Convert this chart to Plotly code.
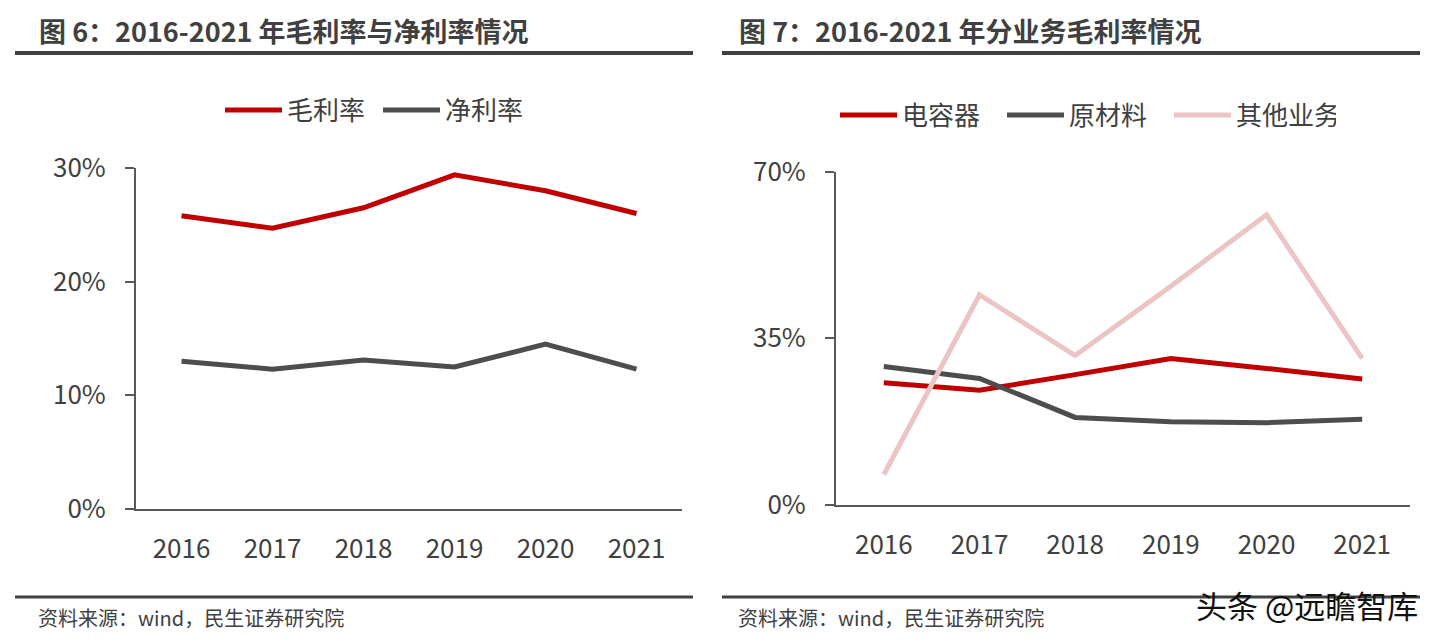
import plotly.graph_objects as go

W, H = 1433, 643

years = ["2016", "2017", "2018", "2019", "2020", "2021"]
gross_margin = [25.8, 24.7, 26.5, 29.4, 28.0, 26.0]
net_margin = [13.0, 12.3, 13.1, 12.5, 14.5, 12.3]
capacitor = [25.6, 24.0, 27.3, 30.7, 28.6, 26.4]
raw_material = [29.0, 26.5, 18.3, 17.4, 17.2, 17.9]
other_business = [6.3, 44.1, 31.3, 45.9, 60.9, 30.7]

left_ticks = [0, 10, 20, 30]
left_labels = ["0%", "10%", "20%", "30%"]
right_ticks = [0, 35, 70]
right_labels = ["0%", "35%", "70%"]

RED = "#C00000"
GRAY = "#4D4D4D"
PINK = "#EBC4C4"
TXT = "#404040"
AX = "#595959"
FONT = "Noto Sans CJK SC"

def px(x):
    return x / W

def py(y):
    return 1 - y / H

fig = go.Figure()

fig.add_trace(go.Scatter(x=years, y=gross_margin, name="毛利率", mode="lines",
                         line=dict(color=RED, width=5), xaxis="x", yaxis="y", legend="legend"))
fig.add_trace(go.Scatter(x=years, y=net_margin, name="净利率", mode="lines",
                         line=dict(color=GRAY, width=5), xaxis="x", yaxis="y", legend="legend"))
fig.add_trace(go.Scatter(x=years, y=capacitor, name="电容器", mode="lines",
                         line=dict(color=RED, width=5), xaxis="x2", yaxis="y2", legend="legend2"))
fig.add_trace(go.Scatter(x=years, y=raw_material, name="原材料", mode="lines",
                         line=dict(color=GRAY, width=5), xaxis="x2", yaxis="y2", legend="legend2"))
fig.add_trace(go.Scatter(x=years, y=other_business, name="其他业务", mode="lines",
                         line=dict(color=PINK, width=5), xaxis="x2", yaxis="y2", legend="legend2"))

xcommon = dict(type="category", categoryorder="array", categoryarray=years,
               range=[-0.5, 5.5], showline=True, linecolor=AX, linewidth=2,
               ticks="", showgrid=False, zeroline=False, automargin=False,
               tickfont=dict(family=FONT, size=26, color=TXT), ticklabelstandoff=16,
               fixedrange=True)
ycommon = dict(showline=True, linecolor=AX, linewidth=2, ticks="outside",
               ticklen=9, tickcolor=AX, tickwidth=2, showgrid=False, zeroline=False,
               tickfont=dict(family=FONT, size=26, color=TXT), automargin=False,
               ticklabelstandoff=14, fixedrange=True)

fig.update_layout(
    width=W, height=H,
    margin=dict(l=0, r=0, t=0, b=0, autoexpand=False),
    paper_bgcolor="white", plot_bgcolor="white",
    font=dict(family=FONT, color=TXT),
    xaxis=dict(domain=[px(136), px(682)], anchor="y", **xcommon),
    yaxis=dict(domain=[py(509), py(168)], anchor="x", range=[0, 30],
               tickvals=left_ticks, ticktext=left_labels, **ycommon),
    xaxis2=dict(domain=[px(836), px(1410)], anchor="y2", **xcommon),
    yaxis2=dict(domain=[py(504.5), py(171.5)], anchor="x2", range=[0, 70],
                tickvals=right_ticks, ticktext=right_labels, **ycommon),
    legend=dict(orientation="h", x=px(220), y=py(110), xanchor="left", yanchor="middle",
                font=dict(family=FONT, size=26, color=TXT), bgcolor="rgba(0,0,0,0)",
                itemwidth=57, entrywidth=86, entrywidthmode="pixels", tracegroupgap=0),
    legend2=dict(orientation="h", x=px(835), y=py(115), xanchor="left", yanchor="middle",
                 font=dict(family=FONT, size=26, color=TXT), bgcolor="rgba(0,0,0,0)",
                 itemwidth=57, entrywidth=95, entrywidthmode="pixels", tracegroupgap=0),
    showlegend=True,
)

# Titles
fig.add_annotation(x=px(37), y=py(30), xref="paper", yref="paper", xanchor="left", yanchor="middle",
                   text="<b>图 6：2016-2021 年毛利率与净利率情况</b>", showarrow=False,
                   font=dict(family=FONT, size=27, color=TXT))
fig.add_annotation(x=px(737), y=py(30), xref="paper", yref="paper", xanchor="left", yanchor="middle",
                   text="<b>图 7：2016-2021 年分业务毛利率情况</b>", showarrow=False,
                   font=dict(family=FONT, size=27, color=TXT))

# Source notes
fig.add_annotation(x=px(36), y=py(617), xref="paper", yref="paper", xanchor="left", yanchor="middle",
                   text="资料来源：wind，民生证券研究院", showarrow=False,
                   font=dict(family=FONT, size=20, color=TXT))
fig.add_annotation(x=px(736), y=py(617), xref="paper", yref="paper", xanchor="left", yanchor="middle",
                   text="资料来源：wind，民生证券研究院", showarrow=False,
                   font=dict(family=FONT, size=20, color=TXT))

# Watermark
fig.add_annotation(x=px(1420), y=py(604), xref="paper", yref="paper", xanchor="right", yanchor="middle",
                   text="头条 @远瞻智库", showarrow=False,
                   font=dict(family=FONT, size=31, color="#111111"), bgcolor="rgba(0,0,0,0)")

# Rules
for x0, x1 in [(15, 693), (722, 1420)]:
    fig.add_shape(type="line", xref="paper", yref="paper", x0=px(x0), x1=px(x1),
                  y0=py(53), y1=py(53), line=dict(color=TXT, width=4))
    fig.add_shape(type="line", xref="paper", yref="paper", x0=px(x0), x1=px(x1),
                  y0=py(597), y1=py(597), line=dict(color=TXT, width=3))

fig.write_html("out.html", config={"displayModeBar": False},
               post_script="document.body.style.margin='0';document.body.style.overflow='hidden';")
